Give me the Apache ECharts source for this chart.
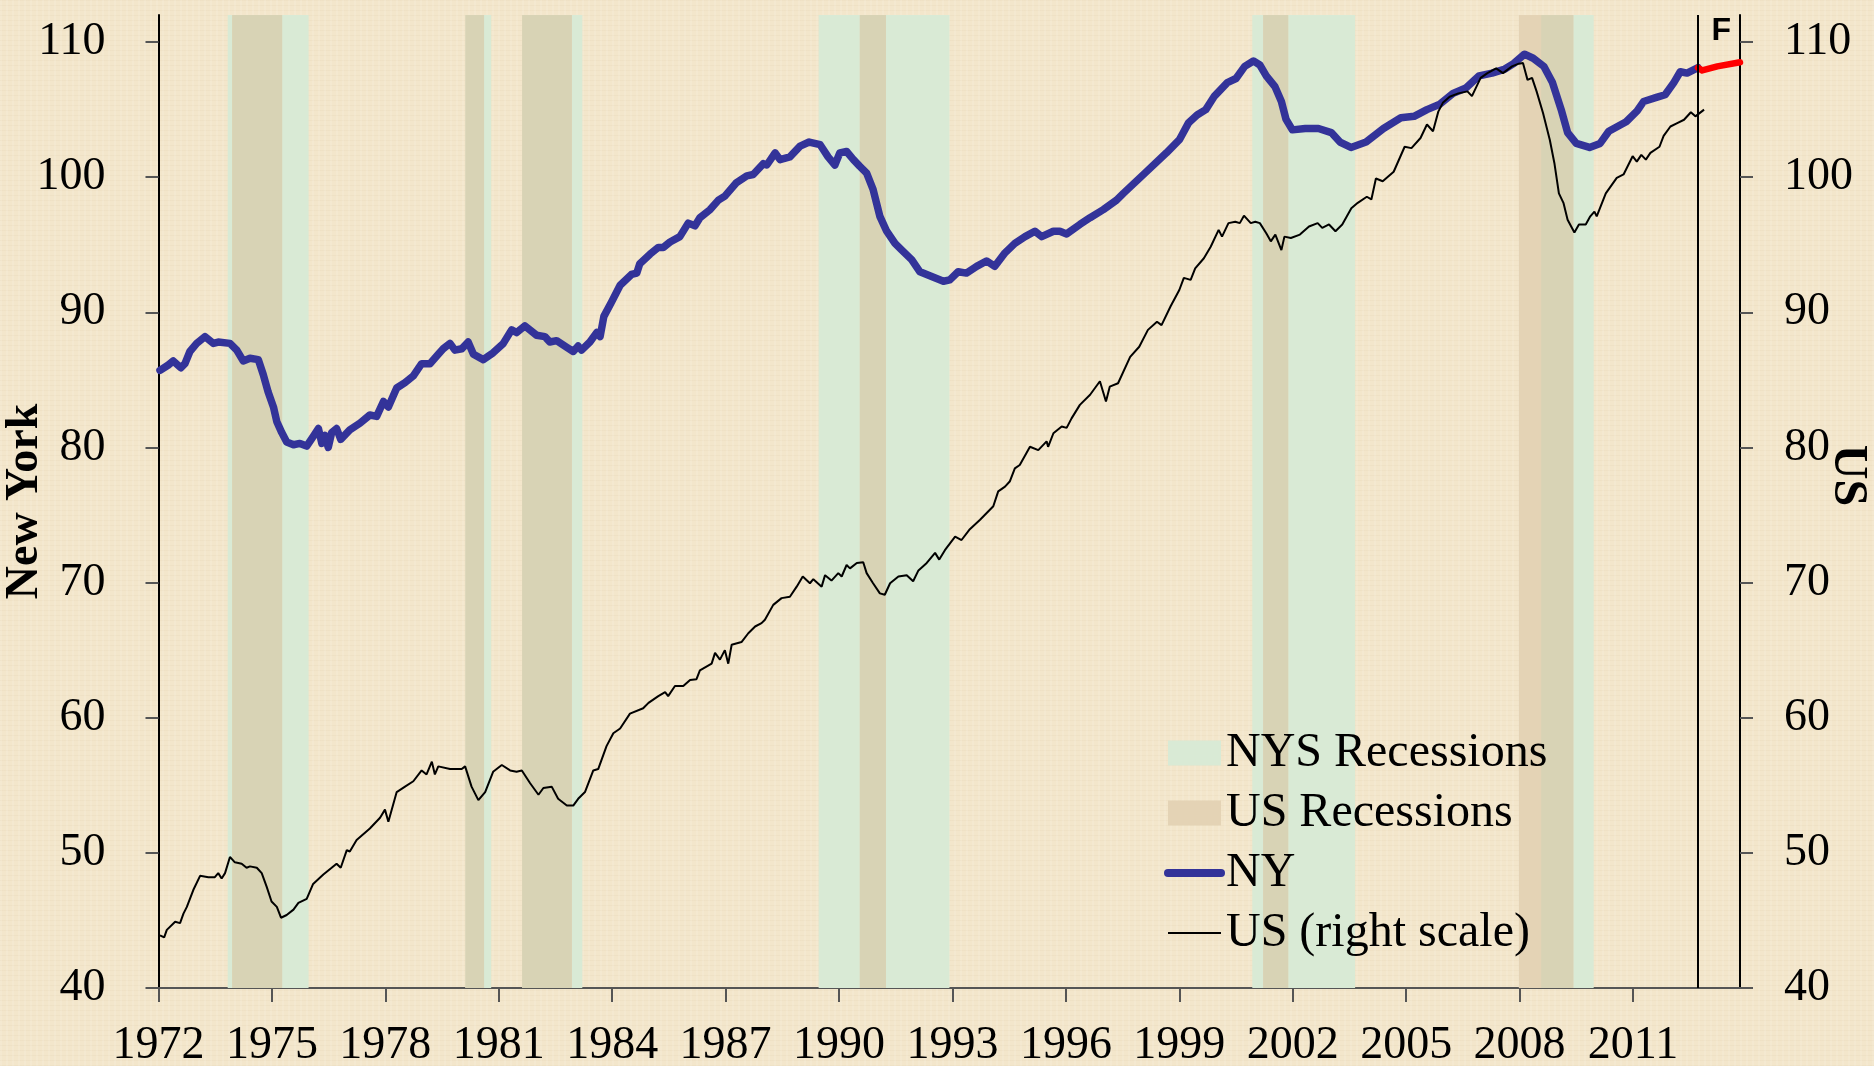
<!DOCTYPE html>
<html>
<head>
<meta charset="utf-8">
<title>New York vs US</title>
<script src="https://cdn.jsdelivr.net/npm/echarts@6/dist/echarts.min.js"></script>
<style>
html, body { margin: 0; padding: 0; }
body {
    background-color: #f3e6cb;
    background-image:
        repeating-linear-gradient(90deg, rgba(255,255,255,0.10) 0px, rgba(255,255,255,0.10) 2px, rgba(0,0,0,0) 2px, rgba(0,0,0,0) 6px),
        repeating-linear-gradient(0deg, rgba(190,165,120,0.07) 0px, rgba(190,165,120,0.07) 1px, rgba(0,0,0,0) 1px, rgba(0,0,0,0) 5px);
}
#chart { width: 1874px; height: 1066px; }
</style>
</head>
<body>
<div id="chart"></div>
<script>
// tick labels
var tickYears = [1972, 1975, 1978, 1981, 1984, 1987, 1990, 1993, 1996, 1999, 2002, 2005, 2008, 2011];
var yTicks = [40, 50, 60, 70, 80, 90, 100, 110];

// recession periods [start, end] in decimal years
var nysRecessions = [[1973.83, 1975.97], [1980.12, 1980.80], [1981.62, 1983.21], [1989.46, 1992.92], [2000.93, 2003.65], [2008.57, 2009.96]];
var usRecessions = [[1973.95, 1975.27], [1980.12, 1980.61], [1981.62, 1982.93], [1990.55, 1991.24], [2001.22, 2001.88], [2007.98, 2009.42]];

var forecastStart = 2012.72; // F line

// NY index (left scale)
var nyData = [
    [1972.04, 85.7], [1972.26, 86.1], [1972.39, 86.4], [1972.59, 85.9], [1972.70, 86.2], [1972.83, 87.1],
    [1973.01, 87.7], [1973.23, 88.2], [1973.45, 87.7], [1973.58, 87.8], [1973.89, 87.7], [1974.07, 87.2],
    [1974.24, 86.4], [1974.42, 86.6], [1974.64, 86.5], [1974.77, 85.4], [1974.90, 84.1], [1975.04, 83.0],
    [1975.13, 81.9], [1975.26, 81.1], [1975.39, 80.4], [1975.57, 80.2], [1975.74, 80.3], [1975.92, 80.1],
    [1976.09, 80.8], [1976.23, 81.4], [1976.32, 80.3], [1976.40, 80.9], [1976.49, 80.0], [1976.58, 81.1],
    [1976.71, 81.4], [1976.82, 80.6], [1977.06, 81.3], [1977.33, 81.8], [1977.59, 82.4], [1977.77, 82.3],
    [1977.95, 83.4], [1978.08, 83.0], [1978.30, 84.4], [1978.52, 84.8], [1978.74, 85.3], [1978.96, 86.2],
    [1979.18, 86.2], [1979.40, 86.9], [1979.53, 87.3], [1979.71, 87.7], [1979.84, 87.2], [1980.02, 87.3],
    [1980.19, 87.8], [1980.33, 86.9], [1980.59, 86.5], [1980.85, 87.0], [1981.12, 87.7], [1981.34, 88.7],
    [1981.47, 88.5], [1981.69, 89.0], [1982.00, 88.3], [1982.22, 88.2], [1982.35, 87.8], [1982.53, 87.9],
    [1982.80, 87.4], [1982.97, 87.1], [1983.10, 87.5], [1983.19, 87.2], [1983.41, 87.8], [1983.59, 88.5],
    [1983.68, 88.2], [1983.78, 89.7], [1983.99, 90.8], [1984.21, 92.0], [1984.51, 92.8], [1984.65, 92.9],
    [1984.73, 93.6], [1985.00, 94.3], [1985.22, 94.8], [1985.35, 94.8], [1985.53, 95.2], [1985.79, 95.6],
    [1986.01, 96.6], [1986.19, 96.4], [1986.32, 97.0], [1986.59, 97.6], [1986.81, 98.3], [1986.98, 98.6],
    [1987.29, 99.6], [1987.56, 100.1], [1987.73, 100.2], [1988.00, 101.0], [1988.09, 100.9], [1988.31, 101.8],
    [1988.44, 101.3], [1988.70, 101.5], [1988.97, 102.3], [1989.21, 102.6], [1989.50, 102.4], [1989.71, 101.5],
    [1989.89, 100.9], [1990.02, 101.8], [1990.20, 101.9], [1990.38, 101.3], [1990.55, 100.8], [1990.73, 100.3],
    [1990.90, 99.1], [1990.99, 98.1], [1991.08, 97.1], [1991.26, 96.0], [1991.48, 95.1], [1991.66, 94.6],
    [1991.92, 93.9], [1992.14, 93.0], [1992.40, 92.7], [1992.76, 92.3], [1992.93, 92.4], [1993.15, 93.0],
    [1993.37, 92.9], [1993.64, 93.4], [1993.90, 93.8], [1994.12, 93.4], [1994.39, 94.4], [1994.65, 95.1],
    [1994.92, 95.6], [1995.18, 96.0], [1995.36, 95.6], [1995.67, 96.0], [1995.84, 96.0], [1996.02, 95.8],
    [1996.37, 96.5], [1996.64, 97.0], [1996.99, 97.6], [1997.34, 98.3], [1997.52, 98.8], [1998.09, 100.3],
    [1998.66, 101.8], [1999.01, 102.8], [1999.24, 104.0], [1999.47, 104.6], [1999.70, 105.0], [1999.93, 106.0],
    [2000.27, 107.0], [2000.50, 107.3], [2000.73, 108.2], [2000.96, 108.6], [2001.13, 108.3], [2001.30, 107.5],
    [2001.53, 106.7], [2001.70, 105.6], [2001.82, 104.3], [2001.99, 103.5], [2002.33, 103.6], [2002.68, 103.6],
    [2003.02, 103.3], [2003.25, 102.6], [2003.54, 102.2], [2003.94, 102.6], [2004.40, 103.6], [2004.86, 104.4],
    [2005.21, 104.5], [2005.55, 105.0], [2005.89, 105.4], [2006.24, 106.2], [2006.58, 106.6], [2006.93, 107.5],
    [2007.27, 107.7], [2007.61, 108.0], [2007.84, 108.4], [2008.13, 109.1], [2008.36, 108.8], [2008.64, 108.2],
    [2008.87, 107.0], [2009.10, 105.0], [2009.27, 103.3], [2009.50, 102.5], [2009.85, 102.2], [2010.13, 102.5],
    [2010.36, 103.4], [2010.82, 104.1], [2011.11, 104.9], [2011.28, 105.6], [2011.62, 105.9], [2011.85, 106.1],
    [2012.08, 107.0], [2012.25, 107.8], [2012.43, 107.7], [2012.72, 108.1]
];

// NY forecast (red)
var nyForecast = [[2012.72, 108.1], [2012.83, 107.9], [2013.23, 108.2], [2013.83, 108.5]];

// US index (right scale)
var usData = [
    [1972.04, 43.9], [1972.15, 43.75], [1972.22, 44.3], [1972.44, 44.9], [1972.57, 44.8], [1972.66, 45.5],
    [1972.75, 46.0], [1972.92, 47.25], [1973.10, 48.3], [1973.32, 48.2], [1973.49, 48.2], [1973.58, 48.5],
    [1973.67, 48.1], [1973.76, 48.5], [1973.89, 49.7], [1974.02, 49.3], [1974.20, 49.2], [1974.33, 48.9],
    [1974.42, 49.0], [1974.60, 48.9], [1974.73, 48.5], [1974.86, 47.5], [1974.99, 46.4], [1975.13, 46.0],
    [1975.24, 45.2], [1975.39, 45.4], [1975.57, 45.8], [1975.70, 46.3], [1975.92, 46.6], [1976.09, 47.7],
    [1976.36, 48.4], [1976.58, 48.9], [1976.71, 49.2], [1976.82, 48.9], [1976.98, 50.2], [1977.06, 50.1],
    [1977.24, 50.95], [1977.59, 51.8], [1977.86, 52.6], [1977.99, 53.2], [1978.08, 52.3], [1978.30, 54.5],
    [1978.52, 54.9], [1978.74, 55.3], [1978.96, 56.1], [1979.09, 55.8], [1979.23, 56.75], [1979.31, 55.8],
    [1979.40, 56.4], [1979.71, 56.2], [1980.02, 56.2], [1980.11, 56.4], [1980.28, 54.9], [1980.46, 53.9],
    [1980.64, 54.5], [1980.85, 56.0], [1981.08, 56.5], [1981.30, 56.1], [1981.47, 56.0], [1981.61, 56.1],
    [1981.83, 55.15], [1982.05, 54.3], [1982.18, 54.8], [1982.40, 54.9], [1982.57, 54.0], [1982.80, 53.5],
    [1982.97, 53.5], [1983.10, 54.0], [1983.28, 54.5], [1983.50, 56.1], [1983.63, 56.2], [1983.85, 57.9],
    [1984.03, 58.85], [1984.21, 59.2], [1984.47, 60.3], [1984.82, 60.7], [1984.96, 61.1], [1985.22, 61.6],
    [1985.40, 61.9], [1985.48, 61.6], [1985.66, 62.35], [1985.88, 62.35], [1986.06, 62.8], [1986.23, 62.85],
    [1986.32, 63.5], [1986.63, 64.0], [1986.72, 64.8], [1986.85, 64.3], [1986.98, 65.0], [1987.07, 64.0],
    [1987.16, 65.4], [1987.42, 65.6], [1987.60, 66.25], [1987.78, 66.75], [1987.95, 67.0], [1988.04, 67.25],
    [1988.26, 68.35], [1988.48, 68.85], [1988.70, 68.95], [1988.88, 69.7], [1989.04, 70.45], [1989.23, 69.95],
    [1989.32, 70.25], [1989.54, 69.7], [1989.63, 70.55], [1989.80, 70.15], [1989.98, 70.7], [1990.07, 70.45],
    [1990.20, 71.3], [1990.29, 71.05], [1990.47, 71.45], [1990.64, 71.5], [1990.73, 70.7], [1990.90, 69.95],
    [1991.08, 69.2], [1991.21, 69.1], [1991.35, 69.95], [1991.57, 70.45], [1991.79, 70.55], [1991.96, 70.1],
    [1992.10, 70.9], [1992.32, 71.45], [1992.54, 72.2], [1992.65, 71.7], [1992.80, 72.4], [1993.07, 73.4],
    [1993.24, 73.15], [1993.46, 73.95], [1993.73, 74.65], [1994.08, 75.65], [1994.21, 76.75], [1994.39, 77.1],
    [1994.52, 77.5], [1994.65, 78.45], [1994.78, 78.7], [1995.05, 80.05], [1995.27, 79.8], [1995.49, 80.45],
    [1995.53, 80.05], [1995.67, 81.05], [1995.89, 81.55], [1996.02, 81.45], [1996.15, 82.15], [1996.37, 83.15],
    [1996.64, 83.9], [1996.90, 84.9], [1997.06, 83.4], [1997.16, 84.5], [1997.38, 84.75], [1997.70, 86.7],
    [1997.94, 87.45], [1998.17, 88.7], [1998.41, 89.3], [1998.53, 89.05], [1998.77, 90.45], [1999.00, 91.65],
    [1999.12, 92.55], [1999.30, 92.4], [1999.42, 93.25], [1999.65, 94.0], [1999.83, 94.85], [2000.04, 96.1],
    [2000.13, 95.6], [2000.30, 96.6], [2000.48, 96.7], [2000.60, 96.6], [2000.71, 97.15], [2000.89, 96.6],
    [2001.01, 96.7], [2001.13, 96.6], [2001.30, 95.85], [2001.42, 95.25], [2001.54, 95.75], [2001.70, 94.6],
    [2001.78, 95.6], [2001.95, 95.5], [2002.19, 95.75], [2002.43, 96.35], [2002.66, 96.6], [2002.78, 96.25],
    [2002.96, 96.5], [2003.13, 96.0], [2003.31, 96.5], [2003.55, 97.7], [2003.72, 98.1], [2003.96, 98.55],
    [2004.08, 98.35], [2004.20, 99.9], [2004.38, 99.7], [2004.67, 100.4], [2004.96, 102.25], [2005.14, 102.15],
    [2005.38, 102.9], [2005.55, 103.9], [2005.71, 103.4], [2005.85, 104.85], [2005.97, 105.5], [2006.15, 105.95],
    [2006.38, 106.2], [2006.62, 106.35], [2006.74, 106.0], [2006.97, 107.35], [2007.15, 107.7], [2007.38, 108.05],
    [2007.56, 107.7], [2007.80, 108.2], [2007.98, 108.4], [2008.09, 108.45], [2008.21, 107.2], [2008.33, 107.35],
    [2008.45, 106.35], [2008.62, 104.75], [2008.80, 102.75], [2008.92, 101.05], [2009.04, 98.8], [2009.16, 98.1],
    [2009.27, 96.85], [2009.45, 95.9], [2009.57, 96.5], [2009.75, 96.5], [2009.87, 97.1], [2009.98, 97.45],
    [2010.04, 97.1], [2010.28, 98.8], [2010.57, 99.95], [2010.75, 100.2], [2010.99, 101.55], [2011.10, 101.15],
    [2011.22, 101.65], [2011.34, 101.3], [2011.46, 101.8], [2011.70, 102.25], [2011.81, 103.05], [2011.99, 103.75],
    [2012.17, 104.0], [2012.35, 104.25], [2012.53, 104.8], [2012.65, 104.5], [2012.88, 105.0]
];

var serif = 'Liberation Serif';

// bands for markArea
function bands(list) {
    return list.map(function (r) {
        return [{xAxis: r[0]}, {xAxis: r[1]}];
    });
}
// periods where both NYS and US are in recession
var bothRecessions = [];
nysRecessions.forEach(function (a) {
    usRecessions.forEach(function (b) {
        var s = Math.max(a[0], b[0]), e = Math.min(a[1], b[1]);
        if (e > s) bothRecessions.push([s, e]);
    });
});

var myChart = echarts.init(document.getElementById('chart'));

var option = {
    animation: false,
    backgroundColor: 'transparent',
    grid: {left: 158.5, right: 134, top: 15, bottom: 78, containLabel: false, outerBoundsMode: 'none'},
    legend: {
        orient: 'vertical',
        left: 1159,
        top: 724,
        itemWidth: 53,
        itemHeight: 25,
        itemGap: 12,
        selectedMode: false,
        data: [
            {name: 'NYS Recessions', icon: 'rect'},
            {name: 'US Recessions', icon: 'rect'},
            {name: 'NY', itemStyle: {color: 'rgba(0,0,0,0)', borderWidth: 0, opacity: 0},
                lineStyle: {color: '#333399', width: 8, cap: 'round'}},
            {name: 'US (right scale)', itemStyle: {color: 'rgba(0,0,0,0)', borderWidth: 0, opacity: 0},
                lineStyle: {color: '#000', width: 2}}
        ],
        textStyle: {fontFamily: serif, fontSize: 48, color: '#000', lineHeight: 48}
    },
    xAxis: {
        type: 'value',
        min: 1972,
        max: 2013.83,
        splitLine: {show: false},
        axisLine: {lineStyle: {color: '#555', width: 2}},
        axisTick: {customValues: tickYears, length: 14, lineStyle: {color: '#555', width: 2}},
        axisLabel: {
            customValues: tickYears, margin: 35, fontFamily: serif, fontSize: 46, color: '#000',
            formatter: function (v) { return String(v); }
        }
    },
    yAxis: [
        {
            type: 'value',
            position: 'left',
            min: 40,
            max: 112,
            splitLine: {show: false},
            axisLine: {show: true, lineStyle: {color: '#000', width: 2}},
            axisTick: {show: true, customValues: yTicks, length: 13, lineStyle: {color: '#555', width: 2}},
            axisLabel: {customValues: yTicks, margin: 53, fontFamily: serif, fontSize: 46, color: '#000'},
            name: 'New York',
            nameLocation: 'middle',
            nameGap: 110,
            nameMoveOverlap: false,
            nameTextStyle: {fontFamily: serif, fontSize: 46, fontWeight: 'bold', color: '#000'}
        },
        {
            type: 'value',
            position: 'right',
            min: 40,
            max: 112,
            splitLine: {show: false},
            axisLine: {show: true, lineStyle: {color: '#000', width: 2}},
            axisTick: {show: true, customValues: yTicks, length: 13, lineStyle: {color: '#555', width: 2}},
            axisLabel: {customValues: yTicks, margin: 44, fontFamily: serif, fontSize: 46, color: '#000'},
            name: 'US',
            nameLocation: 'middle',
            nameRotate: -90,
            nameGap: 83,
            nameMoveOverlap: false,
            nameTextStyle: {fontFamily: serif, fontSize: 48, fontWeight: 'bold', color: '#000', padding: [0, 52, 0, 0]}
        }
    ],
    series: [
        {
            name: 'NYS Recessions',
            type: 'line',
            data: [],
            color: '#d9ead5',
            itemStyle: {color: '#d9ead5'},
            z: 1,
            markArea: {silent: true, itemStyle: {color: '#d9ead5'}, data: bands(nysRecessions)}
        },
        {
            name: 'US Recessions',
            type: 'line',
            data: [],
            color: '#e4d3b5',
            itemStyle: {color: '#e4d3b5'},
            z: 1,
            markArea: {silent: true, itemStyle: {color: '#e4d3b5'}, data: bands(usRecessions)}
        },
        {
            name: 'Both',
            type: 'line',
            data: [],
            z: 1,
            markArea: {silent: true, itemStyle: {color: '#d8d3b5'}, data: bands(bothRecessions)}
        },
        {
            name: 'NY',
            type: 'line',
            data: nyData,
            symbol: 'none',
            color: '#333399',
            lineStyle: {color: '#333399', width: 7.5, cap: 'round', join: 'round'},
            z: 4
        },
        {
            name: 'NY forecast',
            type: 'line',
            data: nyForecast,
            symbol: 'none',
            color: '#ff0000',
            lineStyle: {color: '#ff0000', width: 6.5, cap: 'round', join: 'round'},
            z: 4,
            markLine: {
                silent: true,
                symbol: ['none', 'none'],
                label: {show: false},
                lineStyle: {color: '#000', width: 2, type: 'solid'},
                data: [{xAxis: forecastStart}]
            },
            markPoint: {
                silent: true,
                symbol: 'rect',
                symbolSize: 1,
                itemStyle: {color: 'rgba(0,0,0,0)'},
                label: {
                    show: true,
                    formatter: 'F',
                    position: [14, 1],
                    fontFamily: 'Liberation Sans',
                    fontWeight: 'bold',
                    fontSize: 32,
                    color: '#000'
                },
                data: [{coord: [forecastStart, 112]}]
            }
        },
        {
            name: 'US (right scale)',
            type: 'line',
            yAxisIndex: 1,
            data: usData,
            symbol: 'none',
            color: '#000',
            lineStyle: {color: '#000', width: 2},
            z: 5
        }
    ]
};

myChart.setOption(option);
</script>
</body>
</html>
